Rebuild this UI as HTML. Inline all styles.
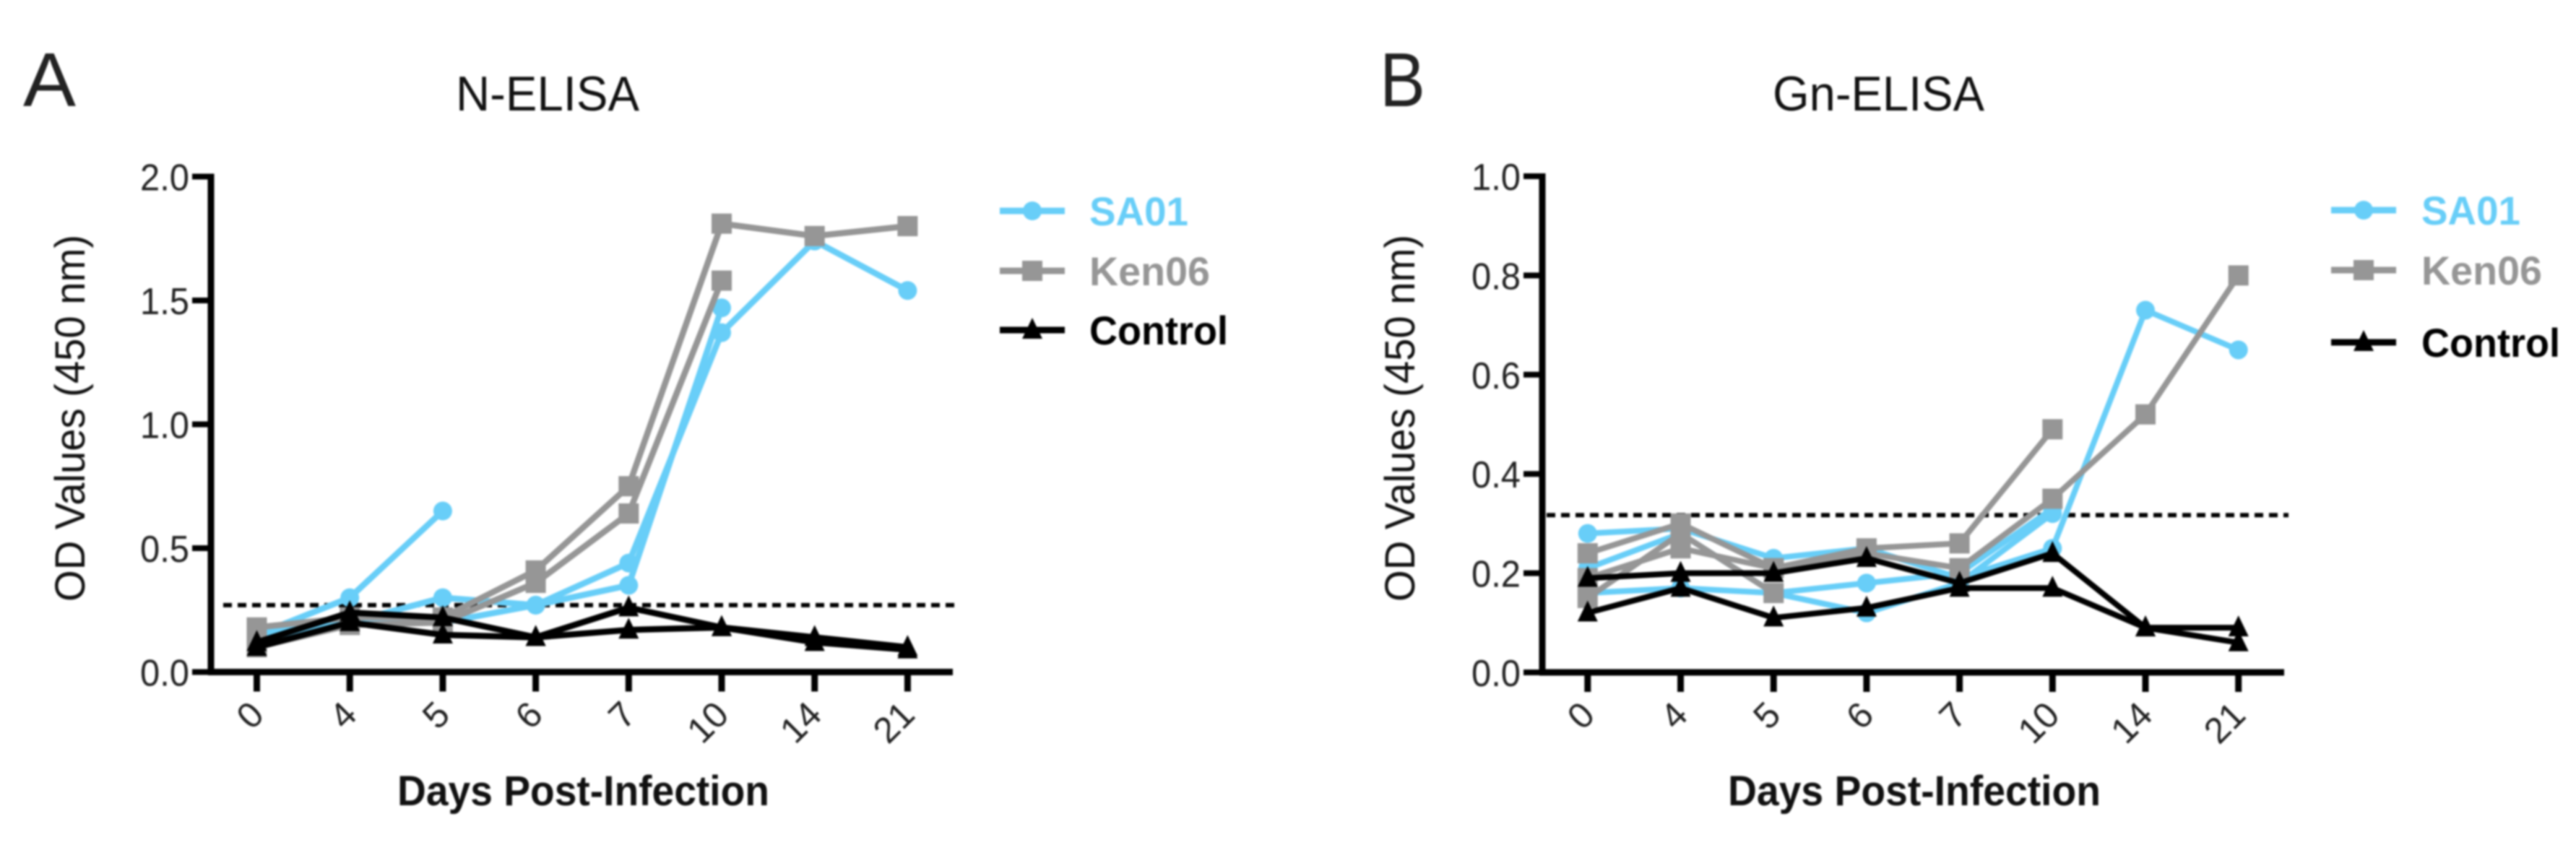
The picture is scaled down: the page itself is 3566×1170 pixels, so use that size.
<!DOCTYPE html>
<html lang="en">
<head>
<meta charset="utf-8">
<title>N-ELISA and Gn-ELISA OD values</title>
<style>
html,body{margin:0;padding:0;background:#fff;width:3566px;height:1170px;overflow:hidden}
svg{display:block;filter:blur(1.3px);fill:#111}
text{font-family:"Liberation Sans",Arial,sans-serif}
</style>
</head>
<body>
<svg id="figure" xmlns="http://www.w3.org/2000/svg" width="3566" height="1170" viewBox="0 0 3566 1170">
  <rect width="3566" height="1170" fill="#fff"/>
  <text x="32" y="147" font-size="106" textLength="73" lengthAdjust="spacingAndGlyphs" fill="#222">A</text>
  <text x="1910" y="147" font-size="106" textLength="63" lengthAdjust="spacingAndGlyphs" fill="#222">B</text>
  <text x="631" y="153" font-size="68" textLength="254" lengthAdjust="spacingAndGlyphs">N-ELISA</text>
  <text x="2454" y="153" font-size="68" textLength="293" lengthAdjust="spacingAndGlyphs">Gn-ELISA</text>
  <text transform="translate(117,833) rotate(-90)" font-size="58" textLength="508" lengthAdjust="spacingAndGlyphs">OD Values (450 nm)</text>
  <text transform="translate(1958,833) rotate(-90)" font-size="58" textLength="508" lengthAdjust="spacingAndGlyphs">OD Values (450 nm)</text>
  <text x="550" y="1115" font-size="58" font-weight="700" textLength="515" lengthAdjust="spacingAndGlyphs">Days Post-Infection</text>
  <text x="2392" y="1115" font-size="58" font-weight="700" textLength="516" lengthAdjust="spacingAndGlyphs">Days Post-Infection</text>
  <g id="panel-a"></g>
  <g id="panel-b"></g>
</svg>
<script>
// Chart data
const days = ["0", "4", "5", "6", "7", "10", "14", "21"];

const ticksA = [0, 0.5, 1.0, 1.5, 2.0];
const cutoffA = 0.27;
const sa01A1 = [0.15, 0.30, 0.65];
const sa01A2 = [0.13, 0.20, 0.30, 0.27, 0.44, 1.37, 1.74, 1.54];
const sa01A3 = [0.15, 0.22, 0.20, 0.27, 0.35, 1.47];
const ken06A1 = [0.18, 0.22, 0.22, 0.41, 0.75, 1.81, 1.76, 1.80];
const ken06A2 = [0.10, 0.19, 0.20, 0.36, 0.64, 1.58];
const controlA1 = [0.12, 0.24, 0.22, 0.14, 0.26, 0.18, 0.12, 0.09];
const controlA2 = [0.10, 0.20, 0.15, 0.14, 0.17, 0.18, 0.14, 0.10];

const ticksB = [0, 0.2, 0.4, 0.6, 0.8, 1.0];
const cutoffB = 0.317;
const sa01B1 = [0.28, 0.29, 0.23, 0.25, 0.19, 0.25, 0.73, 0.65];
const sa01B2 = [0.16, 0.17, 0.16, 0.18, 0.20, 0.33];
const sa01B3 = [0.21, 0.28, 0.16, 0.12, 0.18, 0.32];
const ken06B1 = [0.24, 0.30, 0.21, 0.25, 0.26, 0.49];
const ken06B2 = [0.19, 0.25, 0.21, 0.24, 0.21, 0.35, 0.52, 0.80];
const ken06B3 = [0.15, 0.28, 0.16];
const controlB1 = [0.19, 0.20, 0.20, 0.23, 0.18, 0.24, 0.09, 0.06];
const controlB2 = [0.12, 0.17, 0.11, 0.13, 0.17, 0.17, 0.09, 0.09];

const legendNames = ["SA01", "Ken06", "Control"];

const NS = "http://www.w3.org/2000/svg";
const BLUE = "#68cef8";
const GRAY = "#969696";
const BLACK = "#000000";

function make(parent, tag, attrs) {
  const el = document.createElementNS(NS, tag);
  for (const k in attrs) el.setAttribute(k, attrs[k]);
  parent.appendChild(el);
  return el;
}

function drawMarker(g, kind, cx, cy, color) {
  let m;
  if (kind === "circle") {
    m = make(g, "circle", { cx: cx, cy: cy, r: 13, fill: color });
  } else if (kind === "square") {
    m = make(g, "rect", { x: cx - 14, y: cy - 14, width: 28, height: 28, fill: color });
  } else {
    m = make(g, "path", { d: `M${cx} ${cy - 17}L${cx + 14} ${cy + 12}L${cx - 14} ${cy + 12}Z`, fill: color });
  }
  
  
}

function drawSeries(root, values, xScale, yScale, color, kind, width, name) {
  const g = make(root, "g", {});
  
  
  const pts = values.map((v, i) => xScale(i) + "," + yScale(v)).join(" ");
  const line = make(g, "polyline", { points: pts, fill: "none", stroke: color, "stroke-width": width, "stroke-linejoin": "miter" });
  
  
  values.forEach((v, i) => drawMarker(g, kind, xScale(i), yScale(v), color));
}

function drawPanel(opts) {
  const root = document.getElementById(opts.id);
  const xScale = i => opts.x0 + i * opts.step;
  const yScale = v => opts.yBase - (v / opts.yMax) * opts.yLen;

  // cutoff line
  const cut = make(root, "line", { x1: opts.cutStart, x2: opts.cutEnd, y1: yScale(opts.cutoff), y2: yScale(opts.cutoff), stroke: BLACK, "stroke-width": 6, "stroke-dasharray": "12 8" });
  
  

  // axes
  const yAxis = make(root, "line", { x1: opts.axisX, x2: opts.axisX, y1: opts.yBase - opts.yLen - 4, y2: opts.yBase + 4, stroke: BLACK, "stroke-width": 9 });
  
  
  const xAxis = make(root, "line", { x1: opts.axisX - 4, x2: opts.axisEnd, y1: opts.yBase, y2: opts.yBase, stroke: BLACK, "stroke-width": 9 });
  
  

  opts.ticks.forEach(t => {
    const tick = make(root, "line", { x1: opts.axisX - 26, x2: opts.axisX, y1: yScale(t), y2: yScale(t), stroke: BLACK, "stroke-width": 8 });
    
    
    const label = make(root, "text", { x: opts.axisX - 30, y: yScale(t) + 19, "font-size": 52, "text-anchor": "end", textLength: 68, lengthAdjust: "spacingAndGlyphs", fill: "#222" });
    
    
    label.textContent = t.toFixed(1);
  });

  days.forEach((d, i) => {
    const tick = make(root, "line", { x1: xScale(i), x2: xScale(i), y1: opts.yBase, y2: opts.yBase + 27, stroke: BLACK, "stroke-width": 9 });
    
    
    const lx = xScale(i) + 12.5;
    const ly = opts.yBase + 62;
    const label = make(root, "text", { transform: `translate(${lx},${ly}) rotate(-45)`, "font-size": 50, "text-anchor": "end", fill: "#222" });
    
    
    label.textContent = d;
  });

  opts.sa01.forEach(s => drawSeries(root, s, xScale, yScale, BLUE, "circle", opts.lineWidth, "sa01-series"));
  opts.ken06.forEach(s => drawSeries(root, s, xScale, yScale, GRAY, "square", opts.lineWidth, "ken06-series"));
  opts.control.forEach(s => drawSeries(root, s, xScale, yScale, BLACK, "triangle", opts.lineWidth, "control-series"));

  // legend
  const colors = [BLUE, GRAY, BLACK];
  const kinds = ["circle", "square", "triangle"];
  const lengths = [137, 167, 192];
  legendNames.forEach((name, i) => {
    const y = opts.legendY[i];
    const g = make(root, "g", {});
    
    
    const sw = make(g, "line", { x1: opts.legendX, x2: opts.legendX + 90, y1: y, y2: y, stroke: colors[i], "stroke-width": 9 });
    
    
    drawMarker(g, kinds[i], opts.legendX + 45, y, colors[i]);
    const t = make(g, "text", { x: opts.legendText, y: y + 20, "font-size": 56, "font-weight": 700, fill: colors[i], textLength: lengths[i], lengthAdjust: "spacingAndGlyphs" });
    
    
    t.textContent = name;
  });
}

drawPanel({
  id: "panel-a", x0: 355.5, step: 128.7, yBase: 930.5, yLen: 686, yMax: 2.0,
  axisX: 292, axisEnd: 1319, cutStart: 309, cutEnd: 1325, cutoff: cutoffA,
  ticks: ticksA, lineWidth: 8.5,
  sa01: [sa01A1, sa01A2, sa01A3], ken06: [ken06A1, ken06A2], control: [controlA1, controlA2],
  legendX: 1384, legendText: 1508, legendY: [292, 375, 457]
});
drawPanel({
  id: "panel-b", x0: 2197.8, step: 128.7, yBase: 931, yLen: 687, yMax: 1.0,
  axisX: 2135, axisEnd: 3162, cutStart: 2141, cutEnd: 3168, cutoff: cutoffB,
  ticks: ticksB, lineWidth: 8,
  sa01: [sa01B1, sa01B2, sa01B3], ken06: [ken06B1, ken06B2, ken06B3], control: [controlB1, controlB2],
  legendX: 3227, legendText: 3352, legendY: [291, 374, 474]
});
</script>
</body>
</html>
